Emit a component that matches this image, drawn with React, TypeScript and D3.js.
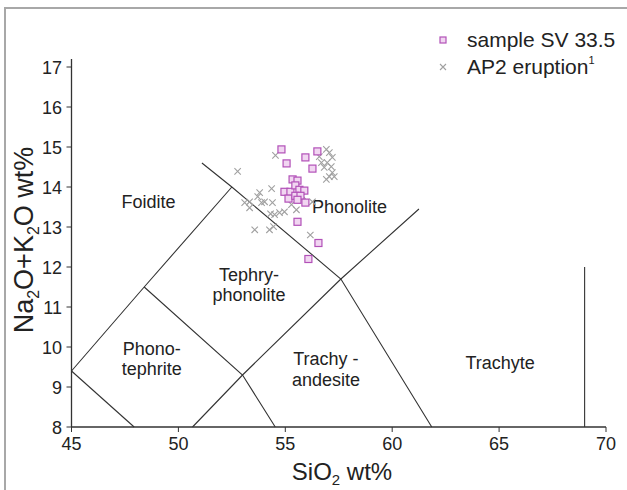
import * as d3 from 'd3';
import React from 'react';

// sample SV 33.5 (SiO2, Na2O+K2O)
const sampleSiO2 = [54.82, 55.06, 55.94, 56.5, 56.27, 55.34, 55.57, 54.96, 55.24, 55.47, 55.66, 55.89, 55.15, 55.47, 55.71, 55.94, 55.57, 55.57, 56.55, 56.08];
const sampleAlk = [14.94, 14.59, 14.74, 14.89, 14.46, 14.19, 14.16, 13.88, 13.88, 14.04, 13.93, 13.91, 13.71, 13.78, 13.78, 13.61, 13.68, 13.13, 12.6, 12.2];

// AP2 eruption
const ap2SiO2 = [52.77, 54.54, 53.8, 53.71, 54.36, 53.1, 53.33, 53.33, 54.03, 53.89, 54.4, 54.5, 54.73, 54.96, 54.31, 53.57, 54.26, 54.45, 55.52, 56.17, 56.27, 56.92, 57.06, 57.2, 56.96, 57.15, 56.82, 57.2, 56.92, 57.06, 56.69, 56.59, 57.29, 55.8, 55.29];
const ap2Alk = [14.39, 14.79, 13.86, 13.76, 13.96, 13.61, 13.48, 13.63, 13.63, 13.61, 13.61, 13.31, 13.36, 13.38, 13.33, 12.93, 12.93, 13.01, 13.43, 12.8, 13.63, 14.94, 14.86, 14.74, 14.61, 14.51, 14.49, 14.36, 14.19, 14.26, 14.61, 14.76, 14.26, 13.78, 13.56];

// TAS field boundaries
const boundaries: [number, number][][] = [
  [[45, 9.4], [48.4, 11.5], [52.5, 14]],
  [[45, 9.4], [47.93, 8]],
  [[48.4, 11.5], [53, 9.3], [54.53, 8]],
  [[51.1, 14.6], [52.5, 14], [57.6, 11.7], [61.85, 8]],
  [[50.66, 8], [53, 9.3], [57.6, 11.7], [61.25, 13.45]],
  [[69, 8], [69, 12]],
];

// field names, "|" breaks the line; position = baseline of first line
const fieldNames = ['Foidite', 'Phonolite', 'Tephry-|phonolite', 'Phono-|tephrite', 'Trachy -|andesite', 'Trachyte'];
const fieldX = [48.6, 58.0, 53.3, 48.75, 56.9, 65.05];
const fieldY = [13.47, 13.35, 11.66, 9.81, 9.54, 9.45];

const xTicks = [45, 50, 55, 60, 65, 70];
const yTicks = [8, 9, 10, 11, 12, 13, 14, 15, 16, 17];

const font = '"Liberation Sans", Arial, sans-serif';
const txt = '#222';

export default function App() {
  const x = d3.scaleLinear().domain([45, 70]).range([71.5, 606]);
  const y = d3.scaleLinear().domain([8, 17]).range([427, 67]);
  const line = d3.line<[number, number]>().x(d => x(d[0])).y(d => y(d[1]));

  const sq = 7;
  const cr = 3.2;
  const x0 = x(45);
  const y0 = y(8);

  return (
    <div style={{ position: 'absolute', left: 0, top: 0 }}>
      <svg width={627} height={490} style={{ display: 'block', background: '#fff' }} fontFamily={font}>
        <rect x={5} y={8} width={700} height={600} fill="none" stroke="#a8a8a8" strokeWidth={2} />

        {boundaries.map((b, i) => (
          <path key={i} d={line(b) ?? ''} fill="none" stroke="#333" strokeWidth={1.1} />
        ))}

        {fieldNames.map((n, i) => (
          <text key={n} x={x(fieldX[i])} y={y(fieldY[i])} textAnchor="middle" fontSize={18} fill={txt}>
            {n.split('|').map((p, j) => (
              <tspan key={j} x={x(fieldX[i])} dy={j === 0 ? 0 : 20.5}>{p}</tspan>
            ))}
          </text>
        ))}

        {ap2SiO2.map((v, i) => (
          <path key={'c' + i}
            d={`M${x(v) - cr},${y(ap2Alk[i]) - cr}L${x(v) + cr},${y(ap2Alk[i]) + cr}M${x(v) - cr},${y(ap2Alk[i]) + cr}L${x(v) + cr},${y(ap2Alk[i]) - cr}`}
            stroke="#a0a0a0" strokeWidth={1.1} fill="none" />
        ))}

        {sampleSiO2.map((v, i) => (
          <rect key={'s' + i} x={x(v) - sq / 2} y={y(sampleAlk[i]) - sq / 2} width={sq} height={sq}
            fill="#f1d6f1" stroke="#b251b8" strokeWidth={1.2} />
        ))}

        {/* axes */}
        <line x1={x0} x2={x0} y1={59} y2={y0} stroke="#333" strokeWidth={1.3} />
        <line x1={x0} x2={x(70)} y1={y0} y2={y0} stroke="#333" strokeWidth={1.3} />
        {yTicks.map(t => (
          <g key={'y' + t}>
            <line x1={x0 - 5} x2={x0} y1={y(t)} y2={y(t)} stroke="#333" />
            <text x={62} y={y(t) + 6.5} textAnchor="end" fontSize={18} fill={txt}>{t}</text>
          </g>
        ))}
        {xTicks.map(t => (
          <g key={'x' + t}>
            <line x1={x(t)} x2={x(t)} y1={y0} y2={y0 + 5} stroke="#333" />
            <text x={x(t)} y={450} textAnchor="middle" fontSize={18} fill={txt}>{t}</text>
          </g>
        ))}

        <text x={342} y={480} textAnchor="middle" fontSize={24} fill={txt}>
          SiO<tspan fontSize={15} dy={5}>2</tspan><tspan dy={-5}> wt%</tspan>
        </text>
        <text transform={`translate(33,240) rotate(-90)`} textAnchor="middle" fontSize={27} fill={txt}>
          Na<tspan fontSize={16} dy={6}>2</tspan><tspan dy={-6}>O+K</tspan><tspan fontSize={16} dy={6}>2</tspan><tspan dy={-6}>O wt%</tspan>
        </text>

        {/* legend */}
        <rect x={440} y={37} width={6} height={6} fill="#f1d6f1" stroke="#b251b8" strokeWidth={1.2} />
        <text x={467} y={47} fontSize={21} fill={txt}>sample SV 33.5</text>
        <path d="M440,64L446,70M440,70L446,64" stroke="#a0a0a0" strokeWidth={1.1} />
        <text x={467} y={74} fontSize={21} fill={txt}>
          AP2 eruption<tspan fontSize={11} dy={-10}>1</tspan>
        </text>
      </svg>
    </div>
  );
}
